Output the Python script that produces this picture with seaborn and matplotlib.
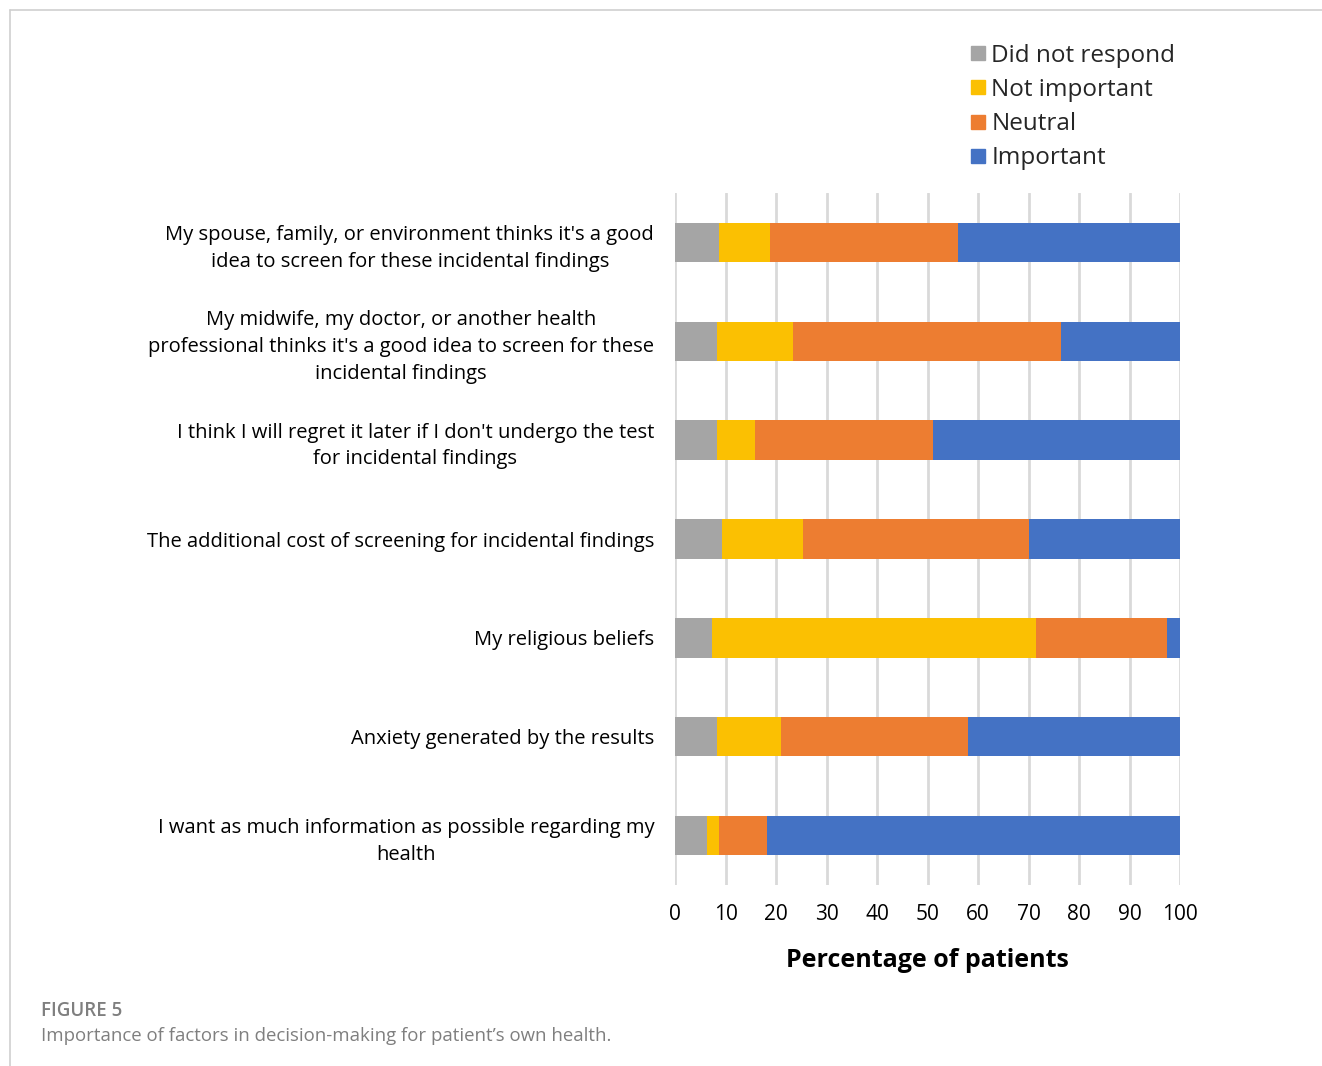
import matplotlib
matplotlib.use("Agg")
import matplotlib.pyplot as plt
import seaborn as sns
import pandas as pd
import numpy as np
from matplotlib.lines import Line2D

sns.set_theme(style="white")
plt.rcParams['font.family'] = ['Open Sans', 'DejaVu Sans']

categories = [
    "My spouse, family, or environment thinks it's a good\nidea to screen for these incidental findings",
    "My midwife, my doctor, or another health\nprofessional thinks it's a good idea to screen for these\nincidental findings",
    "I think I will regret it later if I don't undergo the test\nfor incidental findings",
    "The additional cost of screening for incidental findings",
    "My religious beliefs",
    "Anxiety generated by the results",
    "I want as much information as possible regarding my\nhealth",
]
did_not_respond = [8.8, 8.3, 8.3, 9.4, 7.3, 8.3, 6.3]
not_important = [10.0, 15.0, 7.6, 16.0, 64.2, 12.7, 2.5]
neutral = [37.2, 53.2, 35.1, 44.6, 26.0, 37.0, 9.5]
important = [44.0, 23.5, 49.0, 30.0, 2.5, 42.0, 81.7]

series_names = ["Did not respond", "Not important", "Neutral", "Important"]
colors = ["#A5A5A5", "#FBC002", "#ED7D31", "#4472C4"]

df = pd.DataFrame({
    "category": categories,
    "Did not respond": did_not_respond,
    "Not important": not_important,
    "Neutral": neutral,
    "Important": important,
})
cum = df[series_names].cumsum(axis=1)

fig = plt.figure(figsize=(13.22, 10.66), dpi=100)
ax = fig.add_axes([675 / 1322, 1 - 885 / 1066, (1180 - 675) / 1322, (885 - 193) / 1066])

# draw cumulative totals from largest to smallest so segments stack
for name, color in reversed(list(zip(series_names, colors))):
    sns.barplot(x=cum[name], y=df["category"], color=color, width=0.4,
                orient="h", ax=ax, saturation=1, edgecolor="none", zorder=3)

ax.set_xlim(0, 100)
ax.set_xticks(np.arange(0, 101, 10))
ax.tick_params(axis="x", labelsize=15, colors="#000000", length=0, pad=14)
ax.tick_params(axis="y", labelsize=14.5, length=0, pad=15)
for lbl in ax.get_yticklabels():
    lbl.set_multialignment("center")
    lbl.set_linespacing(1.45)
    lbl.set_color("#000000")
ax.grid(axis="x", color="#D9D9D9", linewidth=2, zorder=0)
ax.grid(axis="y", visible=False)
for s in ax.spines.values():
    s.set_visible(False)
ax.set_ylabel("")
ax.set_xlabel("Percentage of patients", fontsize=18, fontweight="bold", labelpad=16, color="#000000")

handles = [Line2D([0], [0], marker="s", linestyle="none", markersize=10,
                  markerfacecolor=c, markeredgecolor=c) for c in colors]
fig.legend(handles, series_names, loc="upper left", bbox_to_anchor=(956 / 1322, 1 - 34 / 1066),
           frameon=False, fontsize=17.5, handletextpad=0.05, labelspacing=0.42,
           handlelength=1.0, borderaxespad=0)

# frame lines
fig.add_artist(Line2D([10 / 1322, 1], [1 - 10 / 1066, 1 - 10 / 1066], color="#CFCFCF", linewidth=1.2))
fig.add_artist(Line2D([10 / 1322, 10 / 1322], [0, 1 - 10 / 1066], color="#CFCFCF", linewidth=1.2))

fig.text(41 / 1322, 1 - 1011 / 1066, "FIGURE 5", fontsize=13.5, color="#7F7F7F",
         fontweight="semibold", va="center", ha="left")
fig.text(41 / 1322, 1 - 1036 / 1066, "Importance of factors in decision-making for patient’s own health.",
         fontsize=13.4, color="#7F7F7F", va="center", ha="left")

fig.savefig("out.png", dpi=100)
